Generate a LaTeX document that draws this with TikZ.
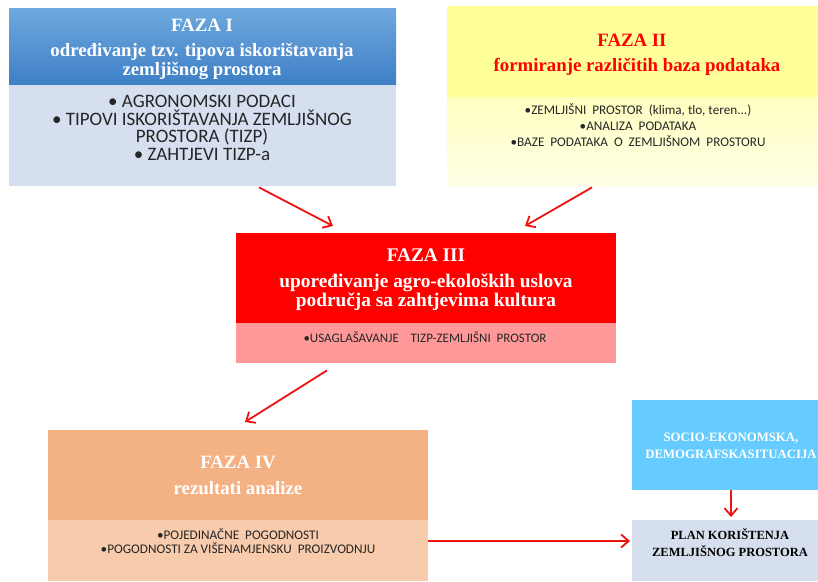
\documentclass[tikz,border=0pt]{standalone}
\usepackage{fontspec}
\setmainfont{Liberation Serif}
\newfontfamily\bodyfont{Carlito}
\usetikzlibrary{arrows.meta}
\definecolor{fonetop}{HTML}{6FA8DE}
\definecolor{fonebot}{HTML}{3E7FC6}
\definecolor{fonebody}{HTML}{D5DFEF}
\definecolor{ftwohead}{HTML}{FFFF99}
\definecolor{ftwobodytop}{HTML}{FFFFC0}
\definecolor{ftwobodybot}{HTML}{FFFFE8}
\definecolor{fthreehead}{HTML}{FF0000}
\definecolor{fthreebody}{HTML}{FF9999}
\definecolor{ffourhead}{HTML}{F4B183}
\definecolor{ffourbody}{HTML}{F8CBAD}
\definecolor{sociocol}{HTML}{66CCFF}
\definecolor{plancol}{HTML}{D6DFEE}
\definecolor{arrowred}{HTML}{EE1111}
\definecolor{bodytext}{HTML}{262626}
\tikzset{
  panel/.style={anchor=north west, inner sep=0pt, draw=none},
  htext/.style={align=center, inner sep=0pt, font=\bfseries\fontsize{18.8}{19.5}\selectfont},
  btext/.style={align=center, inner sep=0pt, text=bodytext},
  flow/.style={draw=arrowred, line width=1.8pt, -{Straight Barb[length=7.5pt,width=13pt]}}
}
\begin{document}
\begin{tikzpicture}[x=1pt,y=-1pt]
\useasboundingbox (0,0) rectangle (818,581);
% FAZA I
\node[panel, fill=fonebody, minimum width=387pt, minimum height=102pt] (f1body) at (9,84) {};
\node[panel, top color=fonetop, bottom color=fonebot, minimum width=387pt, minimum height=76pt] (f1head) at (9,8) {};
\node[htext, text=white] (f1t) at (202,25) {FAZA I};
\node[htext, text=white] (f1s) at (202,61.5) {određivanje tzv. tipova iskorištavanja\\zemljišnog prostora};
\node[btext, font=\bodyfont\fontsize{19}{17.8}\selectfont] (f1b) at (202,128) {\textbullet\ AGRONOMSKI PODACI\\\textbullet\ TIPOVI ISKORIŠTAVANJA ZEMLJIŠNOG\\PROSTORA (TIZP)\\\textbullet\ ZAHTJEVI TIZP-a};
% FAZA II
\node[panel, top color=ftwobodytop, bottom color=ftwobodybot, minimum width=371pt, minimum height=89pt] (f2body) at (447,97) {};
\node[panel, fill=ftwohead, minimum width=371pt, minimum height=91pt] (f2head) at (447,6) {};
\node[htext, text=red] (f2t) at (632,40) {FAZA II};
\node[htext, text=red] (f2s) at (637,67) {formiranje različitih baza podataka};
\node[btext, font=\bodyfont\fontsize{13.2}{16.3}\selectfont] (f2b) at (638,125) {\textbullet ZEMLJIŠNI\ \ PROSTOR\ \ (klima, tlo, teren...)\\\textbullet ANALIZA\ \ PODATAKA\\\textbullet BAZE\ \ PODATAKA\ \ O\ \ ZEMLJIŠNOM\ \ PROSTORU};
% FAZA III
\node[panel, fill=fthreebody, minimum width=380pt, minimum height=40pt] (f3body) at (236,323) {};
\node[panel, fill=fthreehead, minimum width=380pt, minimum height=90pt] (f3head) at (236,233) {};
\node[htext, text=white, font=\bfseries\fontsize{19.3}{19.5}\selectfont] (f3t) at (426,255.5) {FAZA III};
\node[htext, text=white, font=\bfseries\fontsize{19.3}{19.5}\selectfont] (f3s) at (426,292) {upoređivanje agro-ekoloških uslova\\područja sa zahtjevima kultura};
\node[btext, font=\bodyfont\fontsize{13}{14}\selectfont] (f3b) at (425,337) {\textbullet USAGLAŠAVANJE\ \ \ \ TIZP-ZEMLJIŠNI\ \ PROSTOR};
% FAZA IV
\node[panel, fill=ffourbody, minimum width=380pt, minimum height=61pt] (f4body) at (48,520) {};
\node[panel, fill=ffourhead, minimum width=380pt, minimum height=90pt] (f4head) at (48,430) {};
\node[htext, text=white] (f4t) at (238,462) {FAZA IV};
\node[htext, text=white] (f4s) at (238,488) {rezultati analize};
\node[btext, font=\bodyfont\fontsize{13.2}{14.5}\selectfont] (f4b) at (238,541) {\textbullet POJEDINAČNE\ \ POGODNOSTI\\\textbullet POGODNOSTI ZA VIŠENAMJENSKU\ \ PROIZVODNJU};
% SOCIO
\node[panel, fill=sociocol, minimum width=186pt, minimum height=90pt] (socio) at (632,400) {};
\node[htext, text=white, font=\bfseries\fontsize{12.8}{17}\selectfont] (sociot) at (731,445.5) {SOCIO-EKONOMSKA,\\DEMOGRAFSKASITUACIJA};
% PLAN
\node[panel, fill=plancol, minimum width=186pt, minimum height=61pt] (plan) at (632,520) {};
\node[htext, text=black, font=\bfseries\fontsize{12.5}{17}\selectfont] (plant) at (730,542.5) {PLAN KORIŠTENJA\\ZEMLJIŠNOG PROSTORA};
% arrows
\draw[flow] ([xshift=250pt,yshift=-1pt]f1body.south west) -- ([xshift=97pt,yshift=7pt]f3head.north west);
\draw[flow] ([xshift=145pt,yshift=-1pt]f2body.south west) -- ([xshift=289pt,yshift=7pt]f3head.north west);
\draw[flow] ([xshift=91pt,yshift=-7pt]f3body.south west) -- ([xshift=197pt,yshift=8pt]f4head.north west);
\draw[flow] (f4body.east |- f4b) coordinate (f4out) -- ([xshift=-2pt]plan.west |- f4out);
\draw[flow] ([xshift=99pt]socio.south west) -- ([xshift=99pt,yshift=3pt]plan.north west);
\end{tikzpicture}
\end{document}
